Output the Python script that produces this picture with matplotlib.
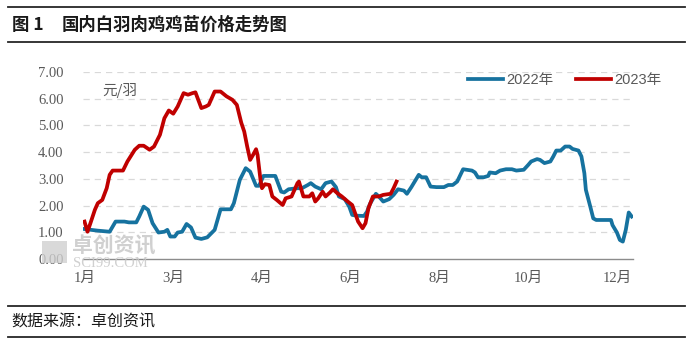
import matplotlib
matplotlib.use('Agg')
import matplotlib.pyplot as plt
from matplotlib.lines import Line2D
from matplotlib.patches import Rectangle

plt.rcParams['font.family'] = ['Liberation Serif', 'Noto Sans CJK SC']

# 2022年 鸡苗价格 (按天序号, 元/羽)
day_2022 = [0, 9, 17, 21, 27, 30, 35, 37, 40, 43, 46, 50, 54, 56, 58, 61, 63, 66, 69, 72,
            75, 79, 83, 88, 92, 99, 101, 105, 109, 112, 116, 118, 121, 129, 133, 135, 138,
            144, 147, 151, 153, 156, 160, 163, 167, 170, 172, 176, 179, 181, 184, 189, 191,
            193, 197, 199, 202, 206, 209, 212, 216, 218, 221, 226, 228, 231, 234, 238, 243,
            246, 249, 252, 256, 262, 264, 266, 270, 273, 274, 278, 281, 285, 289, 292, 297,
            300, 302, 306, 308, 311, 315, 317, 319, 322, 325, 328, 330, 334, 336, 338, 339,
            342, 344, 346, 356, 357, 360, 362, 364, 366, 368, 370]
price_2022 = [1.12, 1.06, 1.02, 1.40, 1.40, 1.37, 1.37, 1.59, 1.96, 1.84, 1.34, 0.99, 1.02,
              1.09, 0.84, 0.84, 0.99, 1.02, 1.31, 1.18, 0.80, 0.75, 0.81, 1.09, 1.86, 1.86,
              2.09, 2.96, 3.40, 3.27, 2.74, 2.74, 3.11, 3.11, 2.52, 2.49, 2.61, 2.65, 2.65,
              2.77, 2.84, 2.71, 2.61, 2.84, 2.90, 2.69, 2.34, 2.24, 1.96, 1.65, 1.62, 1.61,
              1.77, 2.06, 2.44, 2.34, 2.15, 2.24, 2.40, 2.61, 2.56, 2.44, 2.69, 3.15, 3.06,
              3.06, 2.71, 2.69, 2.69, 2.77, 2.77, 2.90, 3.36, 3.31, 3.24, 3.06, 3.06, 3.11,
              3.24, 3.21, 3.31, 3.36, 3.36, 3.31, 3.34, 3.52, 3.65, 3.74, 3.71, 3.59, 3.65,
              3.84, 4.06, 4.06, 4.21, 4.21, 4.12, 4.06, 3.84, 3.21, 2.59, 1.96, 1.52, 1.46,
              1.46, 1.27, 0.99, 0.71, 0.65, 1.09, 1.74, 1.59]

# 2023年 鸡苗价格
day_2023 = [0, 2, 4, 7, 9, 12, 15, 17, 19, 26, 29, 34, 37, 40, 44, 47, 51, 54, 57, 60, 63,
            65, 67, 70, 73, 75, 79, 82, 84, 88, 92, 96, 100, 103, 106, 108, 110, 112, 114,
            116, 117, 119, 120, 122, 125, 127, 130, 134, 136, 140, 144, 145, 148, 152, 154,
            156, 158, 161, 163, 166, 168, 171, 174, 178, 181, 183, 185, 188, 190, 192, 195,
            199, 202, 207, 209, 211]
price_2023 = [1.40, 1.02, 1.34, 1.84, 2.09, 2.21, 2.65, 3.15, 3.31, 3.31, 3.65, 4.09, 4.24,
              4.24, 4.09, 4.21, 4.65, 5.27, 5.56, 5.44, 5.71, 5.96, 6.21, 6.15, 6.21, 6.24,
              5.65, 5.71, 5.77, 6.27, 6.27, 6.09, 5.96, 5.77, 5.10, 4.77, 4.21, 3.71, 3.90,
              4.11, 3.90, 2.96, 2.65, 2.80, 2.77, 2.34, 2.21, 2.02, 2.27, 2.34, 2.84, 2.90,
              2.34, 2.34, 2.46, 2.15, 2.27, 2.52, 2.34, 2.49, 2.61, 2.46, 2.34, 2.15, 2.02,
              1.71, 1.40, 1.15, 1.34, 1.90, 2.34, 2.34, 2.40, 2.44, 2.65, 2.90]

tick_days = [0, 60, 120, 180, 240, 300, 360]
tick_labels = ['1月', '3月', '4月', '6月', '8月', '10月', '12月']
y_ticks = [0, 1, 2, 3, 4, 5, 6, 7]

fig = plt.figure(figsize=(6.92, 3.43), dpi=100)
ax = fig.add_axes([0.12, 0.245, 0.795, 0.545])

ax.plot(day_2022, price_2022, color='#16729f', lw=2.7, label='2022年', solid_joinstyle='round')
ax.plot(day_2023, price_2023, color='#c00000', lw=2.7, label='2023年', solid_joinstyle='round')

ax.set_xlim(-1, 371)
ax.set_ylim(0, 7)
ax.set_yticks(y_ticks)
ax.set_yticklabels(['%.2f' % v for v in y_ticks])
ax.set_xticks(tick_days)
ax.set_xticklabels(tick_labels)
ax.tick_params(axis='y', length=0, pad=14, labelsize=10.5, labelcolor='#595959')
ax.tick_params(axis='x', length=0, pad=9, labelsize=10.5, labelcolor='#595959')

for v in y_ticks[1:]:
    ax.axhline(v, color='#d9d9d9', lw=0.9, ls=(0, (5, 4)), zorder=0)
for s in ['top', 'right', 'left']:
    ax.spines[s].set_visible(False)
ax.spines['bottom'].set_color('#8c8c8c')
ax.spines['bottom'].set_linewidth(1.0)

ax.text(0.035, 0.9, '元/羽', transform=ax.transAxes, fontsize=10.5, color='#595959',
        family=['Noto Sans CJK SC'], va='center')

fig.legend(loc='center', bbox_to_anchor=(0.816, 0.767), ncol=2, frameon=False,
           prop={'family': ['Liberation Sans', 'Noto Sans CJK SC'], 'size': 10.5},
           labelcolor='#595959', handlelength=2.4, handletextpad=0.2, columnspacing=1.6)

# 水印
fig.patches.append(Rectangle((0.061, 0.232), 0.036, 0.066, transform=fig.transFigure,
                             facecolor='#d0d0d0', edgecolor='none', alpha=0.8, zorder=5))
fig.text(0.104, 0.283, '卓创资讯', fontsize=15, color='#c8c8c8', family=['Noto Sans CJK SC'],
         fontweight='bold', va='center', alpha=0.85, zorder=6)
fig.text(0.105, 0.232, 'SCI99.COM', fontsize=10.5, color='#c8c8c8', family=['Liberation Serif'],
         va='center', alpha=0.85, zorder=6)

# 标题与来源
fig.text(0.017, 0.927, '图 1', fontsize=12.5, fontweight='bold', family=['Noto Sans CJK SC'],
         va='center', color='#1a1a1a')
fig.text(0.089, 0.927, '国内白羽肉鸡鸡苗价格走势图', fontsize=12.5, fontweight='bold',
         family=['Noto Sans CJK SC'], va='center', color='#1a1a1a')
fig.text(0.017, 0.061, '数据来源：卓创资讯', fontsize=11.5, family=['Noto Sans CJK SC'],
         va='center', color='#1a1a1a')

for yy in [0.979, 0.877, 0.108, 0.018]:
    fig.add_artist(Line2D([0.012, 0.99], [yy, yy], color='#262626', lw=1.3,
                          transform=fig.transFigure))

fig.savefig('out.png', dpi=100)
